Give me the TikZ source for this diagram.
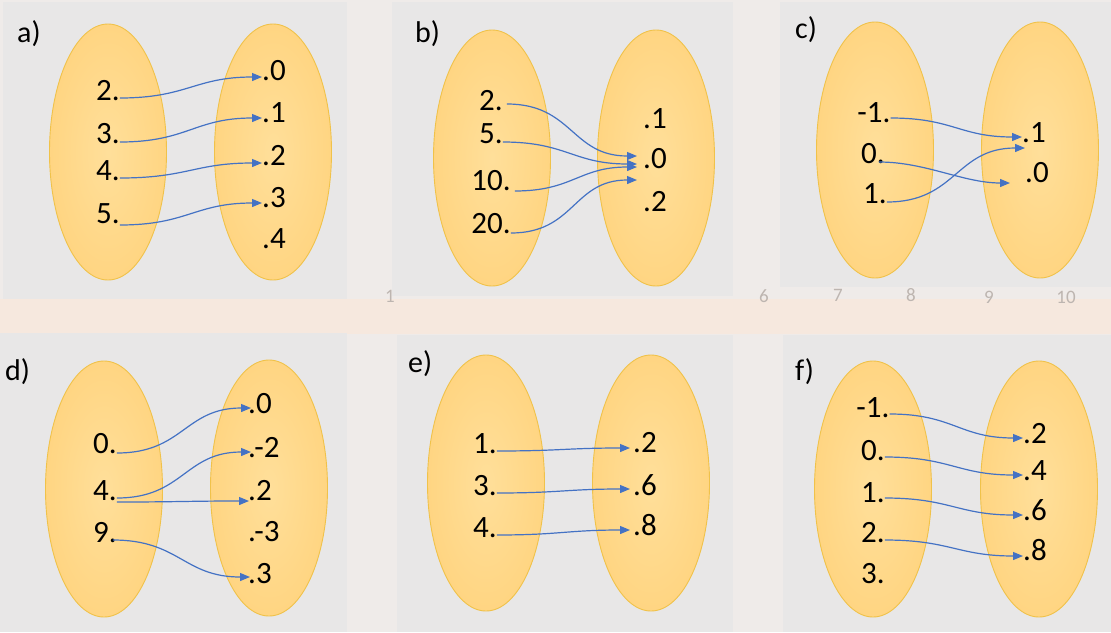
\documentclass[tikz,border=0pt]{standalone}
\usepackage{fontspec}
\setmainfont{Carlito}
\usetikzlibrary{arrows.meta,shapes.geometric}
\definecolor{bgwood}{HTML}{EFEBE9}
\definecolor{bandwood}{HTML}{F6E8DE}
\definecolor{panelgray}{HTML}{E8E7E7}
\definecolor{setin}{HTML}{FFDF9A}
\definecolor{setout}{HTML}{FFD582}
\definecolor{setedge}{HTML}{F0C24A}
\definecolor{arrowblue}{HTML}{4472C4}
\definecolor{axisgray}{HTML}{BDB5B0}
\tikzset{
  setnode/.style={ellipse, minimum width=117pt, minimum height=256pt, inner sep=0pt,
    draw=setedge, line width=0.9pt, inner color=setin, outer color=setout},
  lab/.style={font=\fontsize{31}{36}\selectfont, inner sep=0pt, text=black},
  L/.style={lab, anchor=base},
  R/.style={lab, anchor=base west},
  plab/.style={font=\fontsize{30}{36}\selectfont, inner sep=0pt, anchor=base west},
  axnum/.style={font=\fontsize{19}{22}\selectfont, inner sep=0pt, anchor=base, text=axisgray},
  arr/.style={draw=arrowblue, line width=1.2pt, -{Triangle[length=10pt,width=8pt]}},
  cur/.style={out=0, in=180, looseness=1.2},
  panel/.style={fill=panelgray}
}
\begin{document}
\begin{tikzpicture}[x=1pt, y=-1pt]
\useasboundingbox (0,0) rectangle (1111,632);
\fill[bgwood] (0,0) rectangle (1111,632);
\fill[bandwood] (0,299) rectangle (1111,334);
% panels
\fill[panel] (3,2) rectangle (347,299);
\fill[panel] (392,2) rectangle (733,296);
\fill[panel] (780,2) rectangle (1111,287);
\fill[panel] (0,333) rectangle (347,632);
\fill[panel] (397,335) rectangle (733,632);
\fill[panel] (783,335) rectangle (1111,632);
% faint axis numbers of the background
\node[axnum] (n1) at (390,302) {1};
\node[axnum] (n6) at (764,302) {6};
\node[axnum] (n7) at (838,301) {7};
\node[axnum] (n8) at (911,301) {8};
\node[axnum] (n9) at (989,303) {9};
\node[axnum] (n10) at (1066,303) {10};
% sets
\node[setnode] (aL) at (108,152) {};
\node[setnode] (aR) at (273,152) {};
\node[setnode] (bL) at (492,158) {};
\node[setnode] (bR) at (656,158) {};
\node[setnode] (cL) at (875,150) {};
\node[setnode] (cR) at (1040,150) {};
\node[setnode] (dL) at (104,489) {};
\node[setnode] (dR) at (269,488) {};
\node[setnode] (eL) at (486,483) {};
\node[setnode] (eR) at (651,483) {};
\node[setnode] (fL) at (873,489) {};
\node[setnode] (fR) at (1039,489) {};
% panel letters
\node[plab] (la) at (17,42) {a)};
\node[plab] (lb) at (415,42) {b)};
\node[plab] (lc) at (795,38) {c)};
\node[plab] (ld) at (5,380) {d)};
\node[plab] (le) at (408,372) {e)};
\node[plab] (lf) at (795,380) {f)};
% ---- a
\node[L] (a2) at (108,100) {2.};
\node[L] (a3) at (108,143) {3.};
\node[L] (a4) at (108,180) {4.};
\node[L] (a5) at (108,223) {5.};
\node[R] (ar0) at (262,80) {.0};
\node[R] (ar1) at (262,122) {.1};
\node[R] (ar2) at (262,165) {.2};
\node[R] (ar3) at (262,207) {.3};
\node[R] (ar4) at (262,248) {.4};
\draw[arr] ([yshift=2pt]a2.base east) to[cur] ([yshift=3pt]ar0.base west);
\draw[arr] ([yshift=1pt]a3.base east) to[cur] ([yshift=4pt]ar1.base west);
\draw[arr] ([yshift=2pt]a4.base east) to[cur] ([yshift=2pt]ar2.base west);
\draw[arr] ([yshift=-2pt]a5.base east) to[cur] ([yshift=4pt]ar3.base west);
% ---- b
\node[L] (b2) at (491,110) {2.};
\node[L] (b5) at (491,143) {5.};
\node[L] (b10) at (491,190) {10.};
\node[L] (b20) at (491,233) {20.};
\node[R] (br1) at (643,128) {.1};
\node[R] (br0) at (643,168) {.0};
\node[R] (br2) at (643,211) {.2};
\draw[arr] ([xshift=4pt,yshift=6pt]b2.base east) to[cur] ([xshift=-6pt,yshift=12pt]br0.base west);
\draw[arr] ([yshift=1pt]b5.base east) to[cur] ([xshift=-6pt,yshift=4pt]br0.base west);
\draw[arr] ([xshift=4pt,yshift=-1pt]b10.base east) to[cur] ([xshift=-6pt,yshift=1pt]br0.base west);
\draw[arr] (b20.base east) to[cur] ([xshift=-6pt,yshift=-12pt]br0.base west);
% ---- c
\node[L] (cm1) at (874,122) {-1.};
\node[L] (c0) at (873,163) {0.};
\node[L] (c1) at (875,203) {1.};
\node[R] (cr1) at (1022,142) {.1};
\node[R] (cr0) at (1025,182) {.0};
\draw[arr] ([yshift=4pt]cm1.base east) to[cur] ([yshift=5pt]cr1.base west);
\draw[arr] ([xshift=-6pt,yshift=1pt]c0.base east) to[out=0,in=180,looseness=0.9] ([xshift=-15pt,yshift=-1pt]cr0.base west);
\draw[arr] ([yshift=1pt]c1.base east) to[cur] ([xshift=3pt,yshift=-6pt]cr1.base west);
% ---- d
\node[L] (d0) at (105,453) {0.};
\node[L] (d4) at (105,500) {4.};
\node[L] (d9) at (105,542) {9.};
\node[R] (dr0) at (248,413) {.0};
\node[R] (drm2) at (248,457) {.-2};
\node[R] (dr2) at (248,500) {.2};
\node[R] (drm3) at (248,541) {.-3};
\node[R] (dr3) at (248,583) {.3};
\draw[arr] (d0.base east) to[cur] ([xshift=3pt,yshift=5pt]dr0.base west);
\draw[arr] ([yshift=2pt]d4.base east) to[cur] ([xshift=3pt,yshift=5pt]drm2.base west);
\draw[arr] ([yshift=-2pt]d4.base east) to[cur] ([xshift=1pt,yshift=-1pt]dr2.base west);
\draw[arr] ([xshift=-4pt,yshift=2pt]d9.base east) to[cur] ([xshift=2pt,yshift=6pt]dr3.base west);
% ---- e
\node[L] (e1) at (485,453) {1.};
\node[L] (e3) at (485,495) {3.};
\node[L] (e4) at (485,537) {4.};
\node[R] (er2) at (633,452) {.2};
\node[R] (er6) at (633,495) {.6};
\node[R] (er8) at (633,535) {.8};
\draw[arr] ([yshift=2pt]e1.base east) to[cur] ([xshift=-3pt,yshift=4pt]er2.base west);
\draw[arr] ([yshift=2pt]e3.base east) to[cur] ([xshift=-3pt,yshift=6pt]er6.base west);
\draw[arr] ([yshift=2pt]e4.base east) to[cur] ([xshift=-3pt,yshift=5pt]er8.base west);
% ---- f
\node[L] (fm1) at (873,417) {-1.};
\node[L] (f0) at (873,460) {0.};
\node[L] (f1) at (873,502) {1.};
\node[L] (f2) at (873,542) {2.};
\node[L] (f3) at (873,583) {3.};
\node[R] (fr2) at (1023,443) {.2};
\node[R] (fr4) at (1023,480) {.4};
\node[R] (fr6) at (1023,520) {.6};
\node[R] (fr8) at (1023,560) {.8};
\draw[arr] ([yshift=3pt]fm1.base east) to[cur] ([yshift=5pt]fr2.base west);
\draw[arr] ([yshift=3pt]f0.base east) to[cur] ([yshift=5pt]fr4.base west);
\draw[arr] ([yshift=4pt]f1.base east) to[cur] ([yshift=5pt]fr6.base west);
\draw[arr] ([yshift=2pt]f2.base east) to[cur] ([yshift=4pt]fr8.base west);
\end{tikzpicture}
\end{document}
